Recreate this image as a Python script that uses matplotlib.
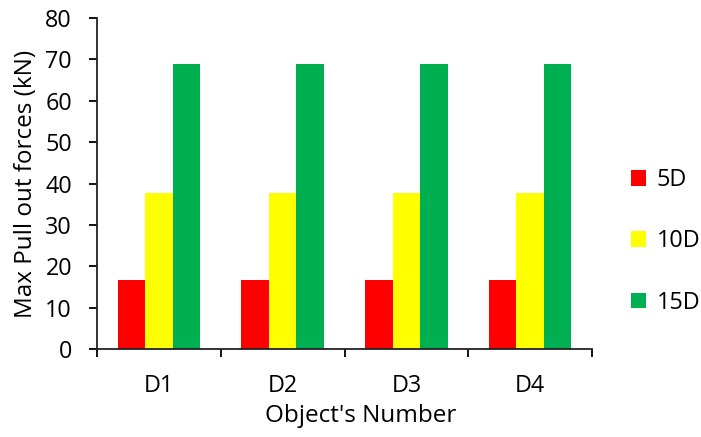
import numpy as np
import matplotlib
matplotlib.use("Agg")
import matplotlib.pyplot as plt

plt.rcParams["font.family"] = ["Open Sans", "DejaVu Sans"]

# data
objects = ["D1", "D2", "D3", "D4"]
series_names = ["5D", "10D", "15D"]
values_5d = [16.8, 16.8, 16.8, 16.8]
values_10d = [37.8, 37.8, 37.8, 37.8]
values_15d = [68.8, 68.8, 68.8, 68.8]
colors = ["#FF0000", "#FFFF00", "#00B050"]

FS = 16.8

fig = plt.figure(figsize=(7.01, 4.37), dpi=100)
ax = fig.add_axes([0.1384, 0.2007, 0.8445 - 0.1384, 0.9588 - 0.2007])

x = np.arange(len(objects))
width = 0.222
for i, (vals, name, c) in enumerate(zip([values_5d, values_10d, values_15d], series_names, colors)):
    ax.bar(x + (i - 1) * width, vals, width=width, color=c, label=name, zorder=2)

ax.set_xlim(-0.5, len(objects) - 0.5)
ax.set_ylim(0, 80)
ax.set_yticks(range(0, 81, 10))
ax.set_xticks(x)
ax.set_xticklabels(objects)
ax.set_xticks(np.arange(-0.5, len(objects), 1), minor=True)
ax.tick_params(axis="x", which="major", length=0, labelsize=FS, pad=18)
ax.tick_params(axis="x", which="minor", length=6, width=1.3, direction="out")
ax.tick_params(axis="y", length=6, width=1.3, labelsize=FS, pad=12)

for side in ["top", "right"]:
    ax.spines[side].set_visible(False)
for side in ["left", "bottom"]:
    ax.spines[side].set_linewidth(1.3)
    ax.spines[side].set_color("#222222")

ax.set_xlabel("Object's Number", fontsize=17.5, labelpad=5)
ax.xaxis.set_label_coords(0.533, -0.165)
ax.set_ylabel("Max Pull out forces (kN)", fontsize=17.5, labelpad=5)

leg = ax.legend(loc="center left", bbox_to_anchor=(1.045, 0.326), frameon=False,
                fontsize=FS, handlelength=0.66, handleheight=0.66,
                handletextpad=0.45, labelspacing=1.6, borderaxespad=0.3)

fig.savefig("out.png", dpi=100, facecolor="white")
